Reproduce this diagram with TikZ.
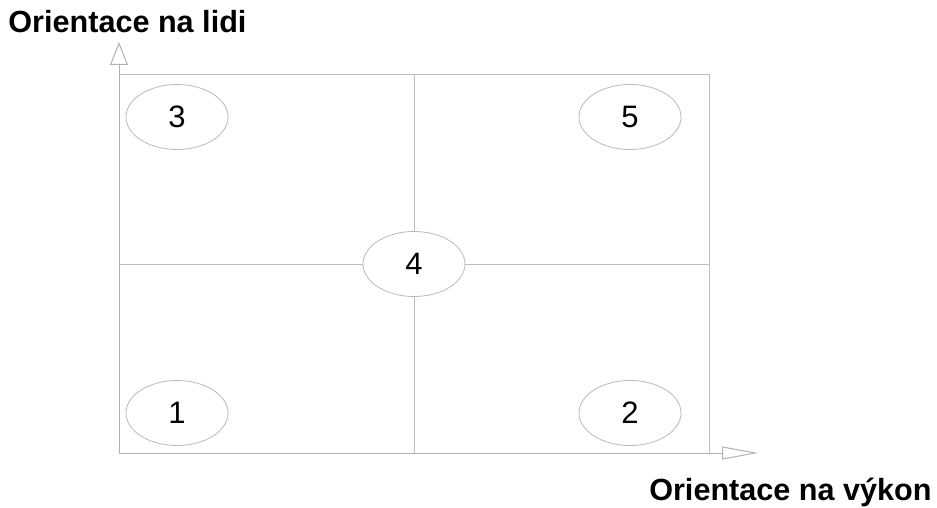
\documentclass[tikz,border=0pt]{standalone}
\usepackage{fontspec}
\setmainfont{Liberation Sans}
\usetikzlibrary{shapes.geometric,arrows.meta,positioning}

\begin{document}
\begin{tikzpicture}[x=0.5pt,y=-0.5pt,
  oval/.style={ellipse, draw=gray!55, fill=white, line width=0.4pt,
               minimum width=51pt, minimum height=32.5pt, inner sep=0pt,
               font=\fontsize{15.5}{17}\selectfont},
  grid/.style={draw=gray!50, line width=0.4pt},
  axis/.style={draw=gray!60, line width=0.5pt},
  lbl/.style={font=\fontsize{15.3}{17}\selectfont\bfseries, inner sep=0pt}
]
\useasboundingbox (0,0) rectangle (937,508);
% frame and quadrants
\coordinate (O)  at (119,453);
\coordinate (TL) at (119,74);
\coordinate (TR) at (709,74);
\coordinate (BR) at (709,453);
\coordinate (ytip) at (119,42);
\coordinate (xtip) at (758,453);
\draw[grid] (TL) -- (TR) -- (BR);
\draw[grid] (414,74) -- (414,453);
\draw[grid] (119,264) -- (709,264);
% axes
\draw[axis, -{Triangle[open, length=11.5pt, width=9pt]}] (O) -- (ytip);
\draw[axis, -{Triangle[open, length=18pt, width=6.5pt]}] (O) -- (xtip);
% styles of leadership
\node[oval] (e3) at (177,117) {3};
\node[oval] (e5) at (630,117) {5};
\node[oval] (e4) at (414,264) {4};
\node[oval] (e1) at (177,413) {1};
\node[oval] (e2) at (630,413) {2};
\node[lbl, anchor=west] (ylab) at (8,22) {Orientace na lidi};
\node[lbl, anchor=east] (xlab) at (932,492) {Orientace na výkon};
\end{tikzpicture}
\end{document}
